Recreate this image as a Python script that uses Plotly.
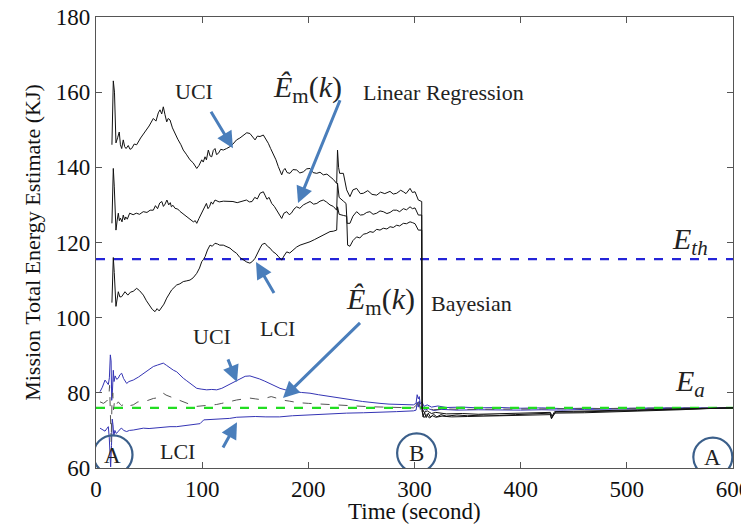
import plotly.graph_objects as go

# ---------------- data (time in s, energy in KJ) ----------------
LR_UCI = [(15.0,146.0),(16.3,163.0),(17.4,160.0),(18.8,146.5),(20.5,148.0),(21.9,149.4),(23.0,146.0),(24.2,145.0),
          (25.7,147.3),(27.0,145.5),(28.3,145.0),(30.4,145.8),(32.0,144.8),(33.6,145.0),(36.0,146.2),(38.3,146.0),
          (42.0,147.8),(46.2,149.5),(50.0,151.0),(54.0,153.0),(56.5,152.3),(58.7,154.5),(60.3,155.3),(61.9,154.2),
          (63.4,156.1),(65.0,154.0),(66.6,152.1),(68.0,153.0),(69.7,152.6),(72.0,150.5),(74.4,149.0),(77.0,147.5),
          (80.0,146.0),(82.2,144.6),(85.0,143.5),(88.5,142.0),(91.5,141.2),(94.9,139.7),(97.0,140.5),(99.6,142.0),
          (101.0,141.4),(102.7,142.8),(104.0,142.0),(105.8,144.6),(107.5,143.0),(109.0,142.8),(110.5,144.5),(112.1,145.0),
          (113.5,143.4),(115.2,143.7),(117.5,144.8),(119.9,144.6),(123.0,145.0),(126.2,145.5),(129.0,146.2),(132.4,147.3),
          (135.5,147.8),(138.7,148.6),(142.0,149.2),(145.0,149.0),(147.5,148.0),(149.8,147.3),(152.0,148.3),(154.5,148.2),
          (157.6,148.6),(160.0,147.6),(162.3,146.4),(164.5,145.0),(167.0,143.7),(169.5,142.0),(171.7,140.2),(173.3,139.0),
          (174.9,138.0),(176.5,139.2),(178.0,139.7),(180.0,138.6),(182.7,138.4),(185.5,139.4),(189.0,139.3),(192.0,138.5),
          (195.3,138.8),(198.5,139.6),(201.6,139.7),(204.5,138.6),(207.9,138.4),(211.0,138.7),(214.1,138.0),(217.5,138.2),
          (220.4,137.5),(223.5,136.8),(226.7,135.7),(227.5,144.6),(228.5,140.0),(229.5,138.4),(233.0,138.4),(234.5,136.0),
          (236.1,134.0),(239.2,132.2),(242.0,134.0),(245.5,134.4),(249.0,133.0),(251.8,133.1),(256.0,133.8),(260.0,132.8),
          (264.4,132.6),(268.0,133.4),(272.0,133.0),(276.9,133.6),(280.0,132.9),(283.2,133.1),(287.0,133.9),(289.5,133.5),
          (292.0,133.0),(295.8,134.4),(298.0,133.3),(300.5,133.5),(303.6,131.3),(306.8,130.9),
          (307.2,76.0),(309.0,74.8),(312.0,75.2),(316.0,74.5),(320.0,74.8),(330.0,74.4),(345.0,74.5),(360.0,74.3),
          (380.0,74.4),(400.0,74.5),(420.0,74.6),(428.0,74.8),(429.5,73.8),(432.0,75.0),(450.0,75.1),(480.0,75.3),
          (510.0,75.5),(540.0,75.7),(570.0,75.9),(600.0,76.0)]

LR_EST = [(15.0,125.1),(16.3,139.7),(17.2,135.0),(18.8,123.3),(20.0,126.0),(21.0,127.8),(22.0,125.8),(23.0,126.5),
          (24.5,125.5),(25.7,127.3),(27.0,126.0),(28.0,126.8),(29.5,126.2),(31.7,127.8),(35.0,127.4),(38.0,127.8),
          (41.0,127.5),(44.5,128.2),(48.0,128.0),(51.0,128.6),(54.0,128.6),(56.0,129.8),(58.0,129.0),(60.0,130.5),
          (62.0,130.9),(63.5,129.6),(65.0,130.2),(66.8,131.3),(68.5,130.0),(70.0,130.6),(71.0,129.5),(72.5,129.9),
          (74.4,129.1),(77.0,128.9),(79.0,128.3),(82.0,127.6),(85.4,126.9),(88.5,126.2),(91.7,125.5),(93.5,125.8),
          (94.9,125.1),(97.0,126.4),(99.0,127.6),(101.0,128.6),(102.5,129.8),(104.0,130.4),(105.5,129.0),(107.0,129.6),
          (108.5,130.8),(110.0,130.2),(112.1,131.3),(116.0,130.8),(120.0,131.0),(124.0,130.9),(129.0,130.9),(133.0,130.6),
          (137.0,131.0),(141.7,131.3),(144.5,130.8),(147.0,130.9),(149.5,132.0),(152.0,131.6),(154.5,133.1),(157.6,133.5),
          (159.5,132.4),(161.0,131.5),(163.0,132.0),(165.5,130.4),(168.0,129.6),(170.0,128.6),(172.5,127.6),(174.9,126.4),
          (177.0,127.8),(179.7,128.2),(182.0,127.4),(184.0,127.8),(186.5,128.9),(189.0,129.5),(192.0,129.1),(195.3,130.0),
          (198.0,130.4),(201.6,130.9),(205.0,130.2),(208.0,130.4),(211.0,131.0),(214.1,131.3),(217.0,130.8),(220.4,130.0),
          (223.5,129.6),(226.7,128.6),(227.5,135.8),(229.0,132.0),(233.0,131.0),(235.5,130.4),(236.5,125.1),(239.2,125.1),
          (242.0,127.0),(245.5,128.2),(249.0,127.3),(251.8,127.4),(255.0,128.0),(258.0,128.2),(261.0,127.5),(264.4,127.8),
          (267.5,128.4),(270.6,128.2),(274.0,127.7),(277.0,128.0),(280.0,128.6),(283.2,128.6),(286.0,128.2),(289.5,129.0),
          (292.5,128.7),(295.8,129.5),(298.0,129.0),(300.5,129.2),(303.6,127.3),(306.8,127.3),
          (307.2,75.6),(308.0,73.6),(309.5,74.8),(311.0,73.4),(313.0,74.6),(315.0,73.5),(318.0,74.3),(321.0,73.6),
          (325.0,74.2),(330.0,73.8),(340.0,74.1),(350.0,73.9),(365.0,74.1),(380.0,74.0),(395.0,74.2),(410.0,74.3),
          (420.0,74.4),(428.0,74.6),(429.0,73.3),(431.0,74.0),(433.0,74.9),(450.0,74.9),(470.0,75.0),(490.0,75.2),
          (510.0,75.3),(530.0,75.5),(550.0,75.6),(570.0,75.8),(585.0,75.9),(600.0,76.0)]

LR_LCI = [(15.0,104.0),(16.3,116.0),(17.2,112.0),(18.8,103.0),(21.0,106.9),(22.5,105.5),(24.2,105.6),(25.5,106.2),
          (27.3,106.9),(30.0,106.0),(32.5,106.8),(35.0,107.0),(38.3,107.8),(41.0,107.2),(44.6,106.0),(47.5,104.5),
          (50.9,102.9),(53.0,102.2),(55.6,101.6),(57.5,102.4),(59.5,101.8),(61.5,102.5),(64.0,103.6),(66.6,105.2),
          (69.0,106.4),(71.3,107.4),(73.5,108.0),(76.0,108.7),(79.0,109.0),(82.2,109.6),(85.5,109.8),(88.5,110.0),
          (91.5,110.6),(94.9,111.8),(97.5,113.2),(99.6,114.9),(101.0,115.4),(102.7,116.2),(105.0,118.0),(107.4,119.3),
          (109.5,119.0),(112.1,119.8),(114.5,119.6),(116.5,119.3),(119.9,119.3),(123.0,118.8),(126.2,118.5),(129.0,117.8),
          (132.5,117.1),(135.5,116.0),(138.7,115.3),(142.0,114.8),(145.0,114.5),(147.5,115.0),(149.8,115.8),(152.0,117.2),
          (154.5,118.5),(156.5,119.5),(159.2,119.8),(161.5,119.0),(163.9,118.5),(166.5,117.6),(169.5,117.0),(172.0,116.2),
          (174.9,115.3),(177.0,116.4),(179.6,117.5),(182.5,117.2),(185.8,118.0),(189.0,118.8),(192.2,119.3),(196.5,119.7),
          (201.6,120.2),(206.0,120.8),(211.0,121.5),(215.5,122.0),(220.4,122.9),(223.5,123.0),(226.7,123.3),(227.5,129.5),
          (229.0,127.5),(233.0,127.2),(236.1,127.0),(237.0,119.3),(239.2,119.0),(242.0,120.5),(245.5,121.5),(248.5,121.2),
          (251.8,122.2),(255.0,122.4),(258.1,122.9),(261.0,122.7),(264.4,123.5),(267.5,123.3),(270.6,123.8),(274.0,123.6),
          (277.0,124.2),(280.0,124.0),(283.2,124.6),(286.0,124.4),(289.5,125.1),(292.5,125.0),(295.8,125.5),(298.0,125.3),
          (300.5,125.0),(303.6,123.3),(306.8,123.3),
          (307.2,75.0),(309.0,73.4),(311.5,74.2),(314.0,73.3),(317.0,73.9),(320.0,73.5),(326.0,73.8),(335.0,73.6),
          (350.0,73.7),(370.0,73.8),(390.0,73.9),(410.0,74.0),(428.0,74.2),(429.0,73.1),(432.0,74.6),(460.0,74.7),
          (490.0,74.9),(520.0,75.2),(550.0,75.5),(575.0,75.8),(600.0,76.0)]

BY_UCI = [(3.8,80.3),(6.0,81.5),(8.5,83.4),(10.0,82.8),(11.6,82.2),(12.6,84.0),(13.5,90.1),(14.2,88.5),(14.8,78.0),
          (15.5,80.5),(16.3,86.0),(17.0,83.0),(18.0,84.5),(19.5,83.6),(21.0,83.9),(22.5,84.8),(24.2,85.2),(26.0,83.8),
          (28.9,82.5),(31.0,83.0),(35.1,83.4),(40.0,84.2),(44.6,85.2),(49.0,86.0),(54.0,87.0),(58.0,87.4),(61.0,87.7),
          (63.4,87.9),(66.5,87.3),(69.7,86.6),(73.0,86.0),(76.0,85.6),(79.0,84.7),(82.2,83.9),(85.5,83.2),(88.5,82.5),
          (91.5,81.9),(94.9,81.2),(99.0,81.0),(104.3,80.8),(109.0,80.9),(113.7,80.8),(118.5,81.2),(123.1,81.9),
          (128.0,82.7),(132.5,83.4),(136.5,84.0),(140.5,84.4),(145.0,84.5),(149.5,84.2),(154.0,83.7),(159.0,83.1),
          (163.9,82.5),(168.5,81.8),(173.3,81.2),(179.5,80.7),(185.8,80.3),(193.5,80.1),(201.6,79.9),(209.5,79.5),
          (217.3,79.2),(225.0,78.9),(233.0,78.6),(242.0,78.1),(251.0,77.7),(259.0,77.4),(267.5,77.2),(276.0,77.0),
          (284.0,76.9),(292.0,76.8),(299.0,76.8),(301.5,77.2),(302.5,79.5),(303.6,78.4),(304.5,79.0),(305.5,77.0),
          (307.0,77.6),(309.0,76.4),(312.0,76.8),(316.0,76.2),(322.0,76.5),(330.0,76.1),(345.0,76.2),(360.0,76.0),
          (380.0,76.1),(400.0,75.9),(420.0,76.0),(440.0,75.8),(460.0,75.9),(480.0,75.8),(500.0,75.9),(530.0,76.0),
          (560.0,76.0),(600.0,76.0)]

BY_LCI = [(3.8,70.6),(6.0,70.2),(8.5,69.8),(10.0,70.4),(11.6,71.0),(12.5,68.0),(13.2,62.0),(13.8,60.3),(14.6,66.0),
          (15.3,73.0),(16.0,71.5),(16.8,68.5),(17.8,70.0),(19.0,69.2),(21.0,69.7),(22.5,70.3),(24.2,70.6),(26.0,70.0),
          (28.9,69.7),(31.5,70.0),(35.1,70.1),(40.0,70.4),(44.6,70.6),(50.0,70.5),(54.0,70.6),(59.0,70.8),(63.5,71.0),
          (69.7,71.0),(76.0,71.0),(82.2,71.2),(88.5,71.4),(94.0,71.5),(98.0,71.8),(101.5,72.8),(107.0,72.9),(113.7,73.0),
          (120.0,73.0),(126.0,73.2),(132.5,73.5),(140.0,73.6),(150.0,73.7),(160.0,73.6),(173.0,73.6),(185.0,73.9),
          (197.0,74.1),(204.7,74.1),(220.0,74.4),(236.0,74.6),(252.0,74.7),(267.5,74.8),(283.0,75.0),(299.0,75.2),
          (301.5,75.4),(302.6,77.5),(303.5,76.2),(304.5,77.8),(305.5,75.6),(307.5,76.5),(310.0,75.4),(313.0,75.8),
          (318.0,75.3),(325.0,75.6),(340.0,75.4),(360.0,75.5),(380.0,75.4),(400.0,75.4),(420.0,75.5),(440.0,75.4),
          (460.0,75.6),(490.0,75.7),(520.0,75.8),(560.0,75.9),(600.0,76.0)]

BY_EST = [(3.8,77.6),(7.0,77.2),(10.0,77.8),(12.0,78.5),(12.8,82.0),(13.5,70.0),(14.3,67.0),(15.0,77.0),(15.8,80.0),
          (16.5,75.5),(17.5,78.0),(19.0,76.8),(21.0,77.6),(23.0,76.9),(24.2,76.6),(26.5,77.0),(28.9,76.3),(32.0,76.6),
          (35.1,76.8),(39.5,77.6),(44.6,77.6),(49.0,78.0),(54.0,78.5),(58.5,78.7),(63.4,79.9),(66.0,79.4),(69.7,79.0),
          (73.0,78.5),(76.0,78.2),(79.0,77.9),(82.2,77.6),(85.5,77.2),(88.5,76.8),(91.5,76.6),(94.9,76.4),(99.0,76.5),
          (104.3,76.6),(109.0,76.8),(113.7,76.9),(118.5,77.2),(123.1,77.4),(128.0,77.8),(132.5,78.1),(137.0,78.3),
          (141.0,78.6),(145.0,78.6),(150.0,78.4),(155.0,78.2),(160.0,78.6),(165.0,79.0),(170.0,78.6),(175.0,78.1),
          (182.0,77.8),(190.0,77.4),(200.0,77.2),(210.0,77.0),(220.0,76.8),(232.0,76.6),(245.0,76.5),(258.0,76.3),
          (270.0,76.2),(285.0,76.1),(299.0,76.0),(302.0,76.8),(303.0,78.6),(304.0,77.2),(305.5,76.0),(308.0,75.6),
          (312.0,75.9),(318.0,75.5),(330.0,75.7),(350.0,75.6),(380.0,75.7),(420.0,75.7),(460.0,75.8),(520.0,75.9),
          (600.0,76.0)]

E_TH = 115.6
E_A = 76.0
X_RANGE = [0, 600]
Y_RANGE = [60, 180]
X_TICKS = [0, 100, 200, 300, 400, 500, 600]
Y_TICKS = [60, 80, 100, 120, 140, 160, 180]
X_TITLE = "Time (second)"
Y_TITLE = "Mission Total Energy Estimate (KJ)"

SERIF = "Liberation Serif, Times New Roman, serif"
ARROW = "#4a7ebb"
CIRCLE = "#3b5f8a"

def xy(pairs):
    return [p[0] for p in pairs], [p[1] for p in pairs]

fig = go.Figure()

fig.add_trace(go.Scatter(x=X_RANGE, y=[E_TH, E_TH], mode="lines",
                         line=dict(color="#2424d8", width=2.2, dash="dash"), showlegend=False))

for pairs, col, w, dash in [(BY_UCI, "#3434b4", 1, "solid"),
                            (BY_LCI, "#3434b4", 1, "solid"),
                            (BY_EST, "#555555", 1, "dash")]:
    x, y = xy(pairs)
    fig.add_trace(go.Scatter(x=x, y=y, mode="lines", line=dict(color=col, width=w, dash=dash),
                             showlegend=False))

fig.add_trace(go.Scatter(x=X_RANGE, y=[E_A, E_A], mode="lines",
                         line=dict(color="#22dd22", width=2.2, dash="dash"), showlegend=False))

for pairs in [LR_UCI, LR_EST, LR_LCI]:
    x, y = xy(pairs)
    fig.add_trace(go.Scatter(x=x, y=y, mode="lines", line=dict(color="#111111", width=1),
                             showlegend=False))

annotations = []

def label(x, y, text, size=22):
    annotations.append(dict(x=x, y=y, xref="x", yref="y", text=text, showarrow=False,
                            font=dict(family=SERIF, size=size, color="#222222")))

def arrow(tx, ty, hx, hy):
    annotations.append(dict(x=hx, y=hy, ax=tx, ay=ty, xref="x", yref="y", axref="x", ayref="y",
                            text=" ", showarrow=True, arrowhead=2, arrowsize=1.1, arrowwidth=3,
                            arrowcolor=ARROW))

EM = "<i>Ê</i><sub>m</sub>(<i>k</i>)"
label(92.3, 160.3, "UCI")
label(199.0, 160.8, EM, 30)
label(327.0, 160.0, "Linear Regression")
label(171.4, 97.0, "LCI")
label(109.3, 94.9, "UCI")
label(77.2, 64.3, "LCI")
label(267.5, 104.4, EM, 30)
label(354.0, 103.9, "Bayesian")
label(559.5, 120.5, "<i>E</i><sub><i>th</i></sub>", 30)
label(559.5, 82.5, "<i>E</i><sub><i>a</i></sub>", 30)
label(16.0, 63.2, "A", 23)
label(302.0, 63.8, "B", 23)
label(581.0, 62.9, "A", 23)

arrow(105.5, 156.1, 129.0, 145.1)
arrow(232.7, 159.8, 190.3, 130.5)
arrow(170.5, 105.2, 150.7, 114.8)
arrow(121.5, 90.9, 132.8, 82.9)
arrow(116.8, 64.0, 132.8, 72.2)
arrow(251.5, 99.4, 176.1, 78.6)

# axis titles placed as paper annotations for precise positioning
annotations.append(dict(x=0.5, y=-0.097, xref="paper", yref="paper", text=X_TITLE, showarrow=False,
                        font=dict(family=SERIF, size=23, color="#111111"), yanchor="middle"))
annotations.append(dict(x=-0.1, y=0.5, xref="paper", yref="paper", text=Y_TITLE, showarrow=False,
                        textangle=-90, font=dict(family=SERIF, size=22, color="#111111"),
                        xanchor="center", yanchor="middle"))

shapes = []
for cx, cy in [(16.0, 63.5), (302.0, 64.0), (581.0, 62.9)]:
    shapes.append(dict(type="circle", xref="x", yref="y", xsizemode="pixel", ysizemode="pixel",
                       xanchor=cx, yanchor=cy, x0=-19.5, x1=19.5, y0=-19.5, y1=19.5,
                       line=dict(color=CIRCLE, width=2.2)))

axis_common = dict(showline=True, linecolor="#555555", linewidth=1.2, mirror="ticks",
                   ticks="inside", ticklen=6, tickcolor="#555555", showgrid=False, zeroline=False,
                   ticklabeloverflow="allow", automargin=False,
                   tickfont=dict(family=SERIF, size=23, color="#111111"))

fig.update_layout(
    width=741, height=525,
    margin=dict(l=96, r=8, t=17, b=57, autoexpand=False),
    paper_bgcolor="white", plot_bgcolor="white",
    xaxis=dict(range=X_RANGE, tickvals=X_TICKS, **axis_common),
    yaxis=dict(range=Y_RANGE, tickvals=Y_TICKS, **axis_common),
    annotations=annotations,
    shapes=shapes,
)

fig.write_html("out.html")
